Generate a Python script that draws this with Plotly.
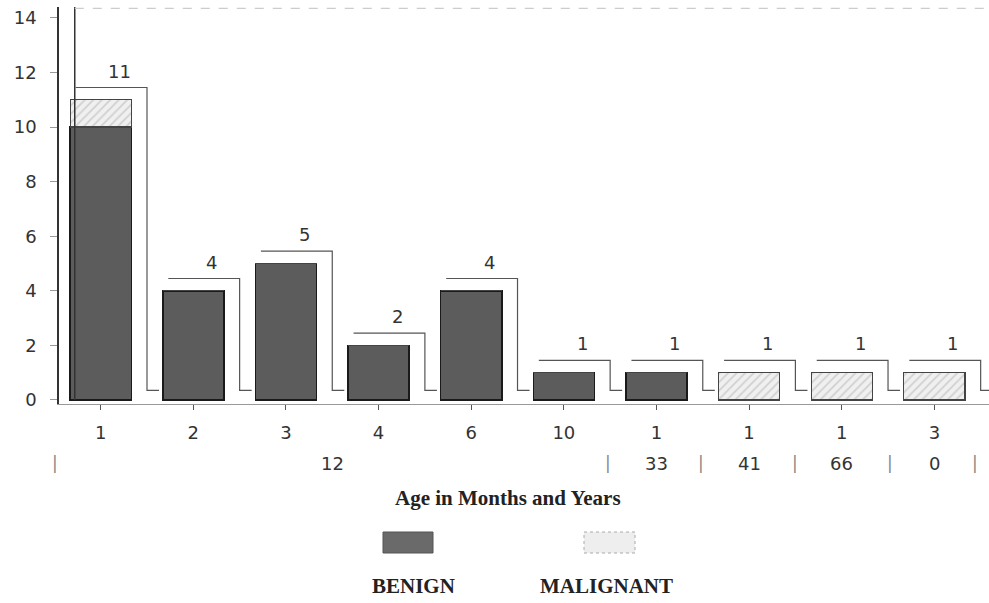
import plotly.graph_objects as go

# ---- data ----
categories = ["1", "2", "3", "4", "6", "10", "1", "1", "1", "3"]
second_row = ["33", "41", "66", "0"]          # labels under the last four bars
group_label = "12"                             # label under the first six bars
benign = [10, 4, 5, 2, 4, 1, 1, 0, 0, 0]
malignant = [1, 0, 0, 0, 0, 0, 0, 1, 1, 1]
totals = [b + m for b, m in zip(benign, malignant)]

W, H = 989, 603
L_M, R_M, T_M, B_M = 59, 0, 7, 199
PW = W - L_M - R_M
PH = H - T_M - B_M
XR = [-0.45, 9.59]
YR = [-0.15, 14.4]


def py(p):
    """pixel row -> paper y"""
    return (H - B_M - p) / PH


def px(p):
    """pixel column -> paper x"""
    return (p - L_M) / PW


idx = list(range(len(categories)))
BW = 0.66

fig = go.Figure()
fig.add_trace(go.Bar(
    x=idx, y=benign, width=BW, name="BENIGN", hoverinfo="skip",
    marker=dict(color="#5c5c5c", line=dict(color="#1a1a1a", width=1.5)),
))
fig.add_trace(go.Bar(
    x=idx, y=malignant, width=BW, name="MALIGNANT", hoverinfo="skip",
    marker=dict(color="#ececec",
                pattern=dict(shape="/", fgcolor="#b0b0b0", bgcolor="#f0f0f0", size=6, solidity=0.3),
                line=dict(color="#444444", width=1.2)),
))

shapes = []
# 3D back edges of each bar, built from the data
for i, t in zip(idx, totals):
    left, right = i - BW / 2, i + BW / 2
    shapes.append(dict(
        type="path", xref="x", yref="y",
        path=f"M {left + 0.06},{t + 0.45} L {right + 0.17},{t + 0.45} L {right + 0.17},{0.35} L {right + 0.3},{0.35}",
        line=dict(color="#555555", width=1.2),
    ))
# back wall
shapes.append(dict(type="line", xref="x", yref="y", x0=-0.28, x1=-0.28, y0=0, y1=14.4,
                   line=dict(color="#333333", width=1.5)))
shapes.append(dict(type="line", xref="x", yref="y", x0=-0.28, x1=9.59, y0=14.35, y1=14.35,
                   line=dict(color="#cccccc", width=1.2, dash="dash")))

# legend swatches
shapes.append(dict(type="rect", xref="paper", yref="paper",
                   x0=px(383), x1=px(433), y0=py(553), y1=py(532),
                   fillcolor="#6a6a6a", line=dict(color="#555555", width=1)))
shapes.append(dict(type="rect", xref="paper", yref="paper",
                   x0=px(584), x1=px(635), y0=py(553), y1=py(532),
                   fillcolor="#eeeeee", line=dict(color="#aaaaaa", width=1, dash="dot")))

ann = []
tick_font = dict(family="DejaVu Sans, Liberation Sans, Arial", size=18, color="#333333")
for i, t in zip(idx, totals):
    ann.append(dict(x=i + 0.2, y=t + 1.05, xref="x", yref="y", text=str(t), showarrow=False,
                    font=tick_font))
# second row of axis labels
ann.append(dict(x=2.5, y=py(463), xref="x", yref="paper", text=group_label, showarrow=False,
                yanchor="middle", font=tick_font))
for i, s in zip(idx[6:], second_row):
    ann.append(dict(x=i, y=py(463), xref="x", yref="paper", text=s, showarrow=False,
                    yanchor="middle", font=tick_font))
for sx in [55, 608, 701, 795, 890, 975]:
    ann.append(dict(x=px(sx), y=py(463), xref="paper", yref="paper", text="|", showarrow=False,
                    xanchor="center", yanchor="middle",
                    font=dict(family="DejaVu Sans", size=17, color="#888888")))
# axis title and legend labels
serif_b = dict(family="Liberation Serif, Times New Roman", size=21, color="#222222")
for cx, cy, txt in [(508, 498, "Age in Months and Years"), (413, 586, "BENIGN"), (606, 586, "MALIGNANT")]:
    ann.append(dict(x=px(cx), y=py(cy), xref="paper", yref="paper", text=f"<b>{txt}</b>",
                    showarrow=False, xanchor="center", yanchor="middle", font=serif_b))

fig.update_layout(
    width=W, height=H, barmode="stack", showlegend=False,
    margin=dict(l=L_M, r=R_M, t=T_M, b=B_M, autoexpand=False),
    plot_bgcolor="white", paper_bgcolor="white",
    shapes=shapes, annotations=ann, hovermode=False,
)
fig.update_xaxes(range=XR, tickvals=idx, ticktext=categories, ticks="outside", ticklen=5,
                 tickcolor="#555555", showgrid=False, zeroline=False, automargin=False,
                 showline=True, linecolor="#999999", linewidth=1,
                 ticklabelstandoff=7, tickfont=tick_font)
fig.update_yaxes(range=YR, tickvals=[0, 2, 4, 6, 8, 10, 12, 14], ticks="outside", ticklen=7,
                 tickcolor="#999999", showgrid=False, zeroline=False, automargin=False,
                 showline=True, linecolor="#333333", linewidth=1.5,
                 ticklabelstandoff=10, tickfont=tick_font)

fig.write_html("out.html", config={"displayModeBar": False},
               post_script="document.body.style.margin='0';")
